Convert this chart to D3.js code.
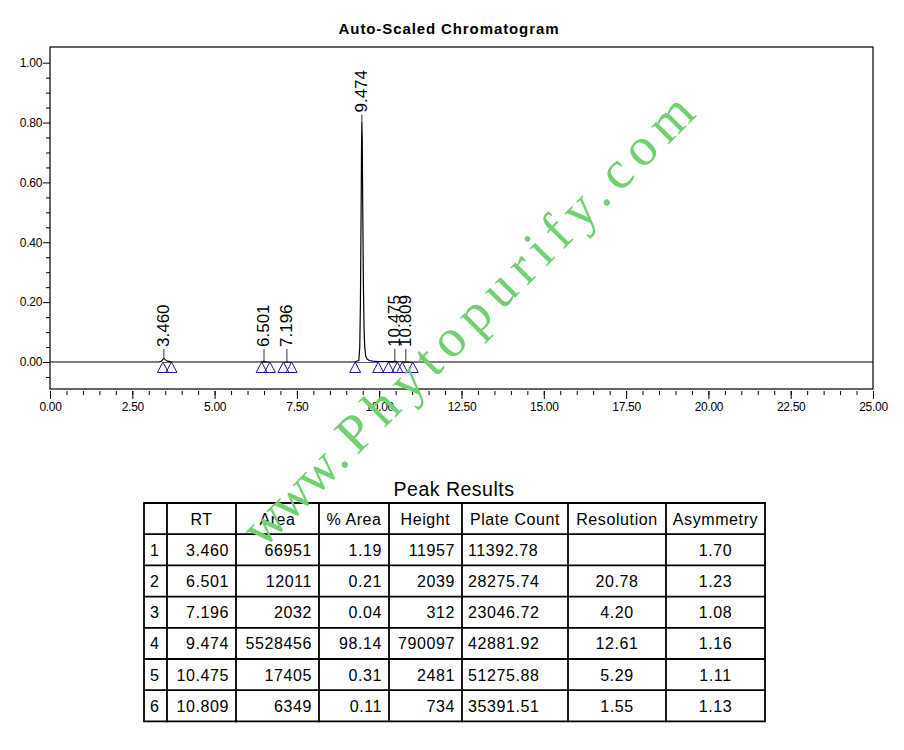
<!DOCTYPE html>
<html><head><meta charset="utf-8">
<script src="https://cdn.jsdelivr.net/npm/d3@7/dist/d3.min.js"></script>
<style>
body{margin:0;background:#fff}
svg{display:block}
text{font-family:"Liberation Sans",Arial,sans-serif;fill:#000}
</style>
</head><body>
<svg id="c" width="904" height="750"></svg>
<script>
// ---- data ----
const chartTitle = "Auto-Scaled Chromatogram";
const tableTitle = "Peak Results";
const traceTime = [0, 3.30, 3.38, 3.42, 3.46, 3.50, 3.56, 3.66, 3.75, 6.40, 6.47, 6.501, 6.54, 6.65, 7.15, 7.196, 7.25,
  9.25, 9.38, 9.41, 9.43, 9.45, 9.465, 9.474, 9.485, 9.50, 9.52, 9.54, 9.56, 9.59, 9.63, 9.70, 9.80, 9.97,
  10.40, 10.475, 10.55, 10.75, 10.809, 10.90, 11.10, 25];
const traceAU = [0, 0, 0.002, 0.008, 0.012, 0.008, 0.003, 0.001, 0, 0, 0.001, 0.002, 0.001, 0, 0, 0.0003, 0,
  0, 0.005, 0.05, 0.20, 0.50, 0.74, 0.80, 0.74, 0.52, 0.26, 0.11, 0.05, 0.02, 0.01, 0.005, 0.003, 0.001,
  0.001, 0.0025, 0.001, 0.0005, 0.0007, 0.0003, 0, 0];
const peakRT = [3.460, 6.501, 7.196, 9.474, 10.475, 10.809];
const peakLabel = ["3.460", "6.501", "7.196", "9.474", "10.475", "10.809"];
const peakApexAU = [0.012, 0.002, 0.0003, 0.80, 0.0025, 0.0007];
const peakStart = [3.43, 6.43, 7.09, 9.27, 10.28, 10.70];
const peakEnd = [3.69, 6.68, 7.34, 9.97, 10.55, 11.02];
const xMajorTicks = [0, 2.5, 5, 7.5, 10, 12.5, 15, 17.5, 20, 22.5, 25];
const xMinorTicks = d3.range(0, 25.001, 0.5);
const yMajorTicks = [0, 0.2, 0.4, 0.6, 0.8, 1.0];
const yMinorTicks = [-0.05, 0.05, 0.1, 0.15, 0.25, 0.3, 0.35, 0.45, 0.5, 0.55, 0.65, 0.7, 0.75, 0.85, 0.9, 0.95];
const tableHeader = ["", "RT", "Area", "% Area", "Height", "Plate Count", "Resolution", "Asymmetry"];
const colPeak = ["1", "2", "3", "4", "5", "6"];
const colRT = ["3.460", "6.501", "7.196", "9.474", "10.475", "10.809"];
const colArea = ["66951", "12011", "2032", "5528456", "17405", "6349"];
const colPctArea = ["1.19", "0.21", "0.04", "98.14", "0.31", "0.11"];
const colHeight = ["11957", "2039", "312", "790097", "2481", "734"];
const colPlate = ["11392.78", "28275.74", "23046.72", "42881.92", "51275.88", "35391.51"];
const colResolution = ["", "20.78", "4.20", "12.61", "5.29", "1.55"];
const colAsymmetry = ["1.70", "1.23", "1.08", "1.16", "1.11", "1.13"];
const watermark = ["www", ".", "Phytopurify.com"];

// ---- layout ----
const svg = d3.select("#c");
const L = 50, R = 873, T = 47, B = 389;
const x = d3.scaleLinear().domain([0, 25]).range([L, R]);
const y = d3.scaleLinear().domain([-0.0902, 1.0524]).range([B, T]);

svg.append("text").attr("x", 449).attr("y", 34).attr("text-anchor", "middle")
  .style("font-size", "15px").style("font-weight", "bold").style("letter-spacing", "0.9px")
  .text(chartTitle);

// frame
svg.append("rect").attr("x", L).attr("y", T).attr("width", R - L).attr("height", B - T)
  .attr("fill", "none").attr("stroke", "#000").attr("stroke-width", 1.2);

// x axis
const gx = svg.append("g").attr("transform", `translate(0,${B + 2})`);
gx.call(d3.axisBottom(x).tickValues(xMinorTicks).tickSize(4).tickFormat(""));
const gx2 = svg.append("g").attr("transform", `translate(0,${B + 2})`);
gx2.call(d3.axisBottom(x).tickValues(xMajorTicks).tickSize(8).tickPadding(3).tickFormat(d3.format(".2f")));
[gx, gx2].forEach(g => { g.select(".domain").remove(); g.selectAll("line").attr("stroke", "#000"); });
gx2.selectAll("text").style("font-size", "12px").style("letter-spacing", "-0.3px").attr("fill", "#000");

// y axis
const gy = svg.append("g").attr("transform", `translate(${L},0)`);
gy.call(d3.axisLeft(y).tickValues(yMinorTicks).tickSize(4).tickFormat(""));
const gy2 = svg.append("g").attr("transform", `translate(${L},0)`);
gy2.call(d3.axisLeft(y).tickValues(yMajorTicks).tickSize(7).tickPadding(1).tickFormat(d3.format(".2f")));
[gy, gy2].forEach(g => { g.select(".domain").remove(); g.selectAll("line").attr("stroke", "#000"); });
gy2.selectAll("text").style("font-size", "12px").style("letter-spacing", "-0.3px").attr("fill", "#000");

// integration baselines
svg.append("g").selectAll("line").data(peakStart).join("line")
  .attr("x1", d => x(d)).attr("x2", (d, i) => x(peakEnd[i]))
  .attr("y1", y(0) + 0.5).attr("y2", y(0) + 0.5)
  .attr("stroke", "#5a5aa8").attr("stroke-width", 1);

// trace
const line = d3.line().x(d => x(d[0])).y(d => y(d[1]));
svg.append("path").datum(d3.zip(traceTime, traceAU))
  .attr("d", line).attr("fill", "none").attr("stroke", "#000").attr("stroke-width", 1.2)
  .attr("stroke-linejoin", "round");

// markers (open triangles)
const markerTimes = peakStart.flatMap((s, i) => [s, peakEnd[i]]);
svg.append("g").selectAll("path").data(markerTimes).join("path")
  .attr("d", d => { const cx = x(d), cy = y(0); return `M${cx},${cy}L${cx - 5.5},${cy + 10.5}L${cx + 5.5},${cy + 10.5}Z`; })
  .attr("fill", "none").attr("stroke", "#1c1c8a").attr("stroke-width", 1);

// peak labels
const pl = svg.append("g");
peakRT.forEach((rt, i) => {
  const px = x(rt), apex = y(peakApexAU[i]);
  const lblBottom = Math.min(apex - 10, y(0) - 15);
  pl.append("line").attr("x1", px).attr("x2", px).attr("y1", lblBottom + 2).attr("y2", apex)
    .attr("stroke", "#333").attr("stroke-width", 1);
  pl.append("text").attr("transform", `translate(${px},${lblBottom}) rotate(-90)`)
    .attr("dy", "0.3em").style("font-size", "17px").text(peakLabel[i]);
});

// table
svg.append("text").attr("x", 454).attr("y", 496).attr("text-anchor", "middle")
  .style("font-size", "19.5px").style("letter-spacing", "0.5px").text(tableTitle);
const colX = [144, 167, 236, 319, 389, 462, 568, 666, 765];
const tTop = 503, rowH = 31.2;
const cols = [colPeak, colRT, colArea, colPctArea, colHeight, colPlate, colResolution, colAsymmetry];
const align = ["start", "end", "end", "end", "end", "start", "middle", "middle"];
const tg = svg.append("g");
const nRows = colPeak.length + 1;
for (let r = 0; r <= nRows; r++) {
  tg.append("line").attr("x1", colX[0]).attr("x2", colX[colX.length - 1])
    .attr("y1", tTop + r * rowH).attr("y2", tTop + r * rowH).attr("stroke", "#000").attr("stroke-width", 1.8);
}
colX.forEach(cx => {
  tg.append("line").attr("x1", cx).attr("x2", cx).attr("y1", tTop - 0.9).attr("y2", tTop + nRows * rowH + 0.9)
    .attr("stroke", "#000").attr("stroke-width", 1.8);
});
function cellX(c, a) {
  if (a === "start") return colX[c] + 6;
  if (a === "end") return colX[c + 1] - 7;
  return (colX[c] + colX[c + 1]) / 2;
}
tableHeader.forEach((h, c) => {
  tg.append("text").attr("x", (colX[c] + colX[c + 1]) / 2).attr("y", tTop + rowH / 2 + 6)
    .attr("text-anchor", "middle").style("font-size", "16px").style("letter-spacing", "0.6px").text(h);
});
cols.forEach((col, c) => {
  col.forEach((v, r) => {
    tg.append("text").attr("x", cellX(c, align[c])).attr("y", tTop + (r + 1) * rowH + rowH / 2 + 6)
      .attr("text-anchor", align[c]).style("font-size", "16px").style("letter-spacing", "0.6px").text(v);
  });
});

// watermark
const wmColor = "#72d072";
const wm = svg.append("g").attr("transform", "translate(345,465) rotate(-45)");
function wmText() {
  return wm.append("text").style("font-family", "'Liberation Serif','Times New Roman',serif")
    .style("font-size", "54px").style("fill", wmColor);
}
wmText().attr("x", -7).attr("y", 2).attr("text-anchor", "end").style("letter-spacing", "-2px").text(watermark[0]);
wmText().attr("x", 0).attr("y", 2).attr("text-anchor", "middle").text(watermark[1]);
wmText().attr("x", 15).attr("y", 2).style("letter-spacing", "8.6px").text(watermark[2]);
</script>
</body></html>
